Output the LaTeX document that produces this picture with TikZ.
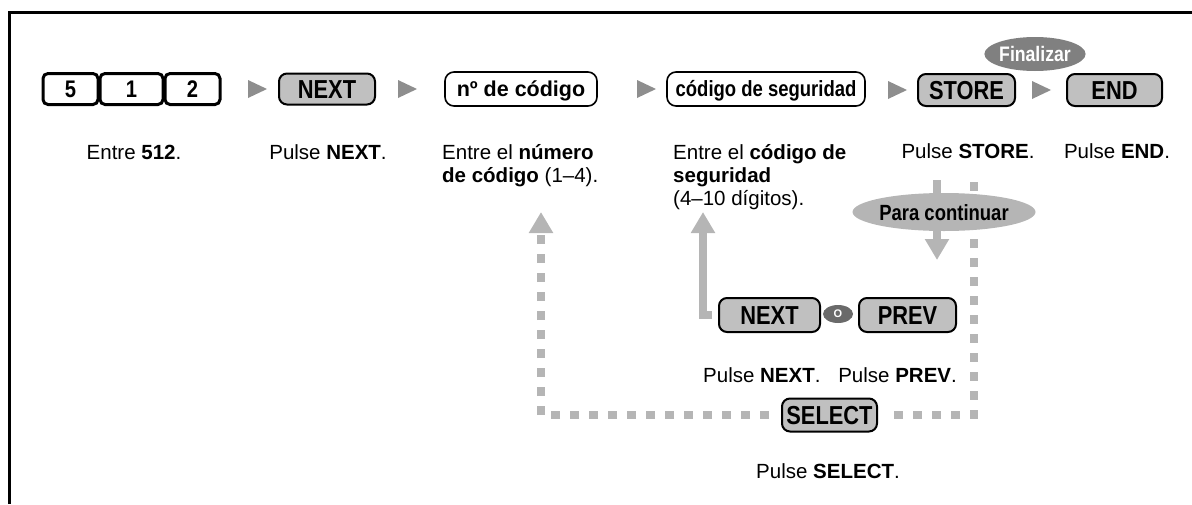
\documentclass[tikz,border=0pt]{standalone}
\usepackage{fontspec}
\setmainfont{Liberation Sans}
\newfontfamily\keyfont[FakeStretch=0.84]{Liberation Sans Bold}
\usetikzlibrary{arrows.meta,shapes.geometric}
\definecolor{keygray}{HTML}{C0C0C0}
\definecolor{trigray}{HTML}{8E8E8E}
\definecolor{arrgray}{HTML}{B5B5B5}
\definecolor{fingray}{HTML}{808080}
\definecolor{ogray}{HTML}{6A6A6A}
\newcommand\mytri[2]{\fill[trigray] (#1,#2) ++(0,-9) -- ++(19,9) -- ++(-19,9) -- cycle;}
\begin{document}
\begin{tikzpicture}[x=1pt,y=-1pt,
  keyw/.style={draw,line width=3pt,rounded corners=5pt,fill=white,minimum height=31pt,inner sep=0pt,
    text height=17pt,text depth=0pt,font=\keyfont\fontsize{24}{24}\selectfont},
  keyg/.style={draw,line width=2pt,rounded corners=8pt,fill=keygray,inner sep=0pt,
    text height=18.5pt,text depth=0pt,font=\keyfont\fontsize{26}{26}\selectfont},
  boxw/.style={draw,line width=1.6pt,rounded corners=9pt,fill=white,minimum height=34pt,inner sep=0pt,
    text height=15pt,text depth=0pt},
  body/.style={font=\fontsize{20.5}{24}\selectfont,inner sep=0pt,anchor=base},
  bodyl/.style={body,anchor=base west},
  arr/.style={line width=8pt,draw=arrgray},
  dotl/.style={line width=8pt,draw=arrgray,dash pattern=on 9pt off 10pt},
  tipa/.style={-{Triangle[width=23pt,length=21pt]}}
]
\useasboundingbox (0,0) rectangle (1192,504);
% frame
\draw[line width=2.6pt] (9.5,504) -- (9.5,12.5) -- (1192,12.5);

% row 1
\node[keyw,minimum width=55pt] (k5) at (70.5,89) {5};
\node[keyw,minimum width=63pt] (k1) at (131.5,89) {1};
\node[keyw,minimum width=55pt] (k2) at (192.5,89) {2};
\mytri{248}{89}
\node[keyg,minimum width=96pt,minimum height=31pt] (next1) at (327,89) {NEXT};
\mytri{398}{89}
\node[boxw,minimum width=152pt,font=\bfseries\fontsize{21.5}{21.5}\selectfont] (num) at (521,89) {nº de código};
\mytri{637}{89}
\node[boxw,minimum width=198pt,font=\keyfont\fontsize{22}{22}\selectfont] (seg) at (766,89) {código de seguridad};
\mytri{888}{90}
\node[keyg,minimum width=97pt,minimum height=32pt] (store) at (966.5,90) {STORE};
\mytri{1032}{90}
\node[keyg,minimum width=95pt,minimum height=32pt] (endk) at (1114.5,90) {END};
\node[ellipse,fill=fingray,text=white,inner sep=0pt,minimum width=82pt,minimum height=34pt,
  text height=15pt,text depth=0pt,font=\keyfont\fontsize{21}{21}\selectfont] (fin) at (1035,54) {Finalizar};

% row 2 texts
\node[body] (t1) at (134,159) {Entre \textbf{512}.};
\node[body] (t2) at (328,159) {Pulse \textbf{NEXT}.};
\node[bodyl] (t3a) at (442,159) {Entre el \textbf{número}};
\node[bodyl] (t3b) at (442,182) {\textbf{de código} (1–4).};
\node[bodyl] (t4a) at (673,159) {Entre el \textbf{código de}};
\node[bodyl] (t4b) at (673,182) {\textbf{seguridad}};
\node[bodyl] (t4c) at (673,205) {(4–10 dígitos).};
\node[body] (t5) at (968,158) {Pulse \textbf{STORE}.};
\node[body] (t6) at (1117,158) {Pulse \textbf{END}.};

% row 3
\node[keyg,minimum width=101pt,minimum height=34pt] (next2) at (769.5,315) {NEXT};
\node[ellipse,fill=ogray,text=white,inner sep=0pt,minimum width=30pt,minimum height=18pt,
  font=\bfseries\fontsize{11}{11}\selectfont] (o) at (838,314) {O};
\node[keyg,minimum width=97pt,minimum height=34pt] (prev) at (907.5,315) {PREV};
\node[bodyl] (t7) at (703,382) {Pulse \textbf{NEXT}.};
\node[body,anchor=base east] (t8) at (957,382) {Pulse \textbf{PREV}.};
\node[keyg,minimum width=95pt,minimum height=33pt] (sel) at (829.5,415) {SELECT};
\node[body] (t9) at (828,478) {Pulse \textbf{SELECT}.};

% connectors
\coordinate (tipL) at (541,212);
\coordinate (tipM) at (703,212);
\coordinate (sd) at (937,180);
\coordinate (sdtip) at (937,260);
\coordinate (rtop) at (974,182);

\draw[dotl,tipa,shorten <=12pt] (sel.west) -| (tipL);
\draw[dotl,shorten >=8pt] (rtop) |- (sel.east);
\draw[arr,tipa,shorten <=6pt] (next2.west) -| (tipM);
\draw[arr,tipa] (sd) -- (sdtip);

\node[ellipse,fill=arrgray,inner sep=0pt,minimum width=142pt,minimum height=38pt,
  text height=16pt,text depth=0pt,font=\keyfont\fontsize{22}{22}\selectfont] (cont) at (944,212) {Para continuar};
\end{tikzpicture}
\end{document}
